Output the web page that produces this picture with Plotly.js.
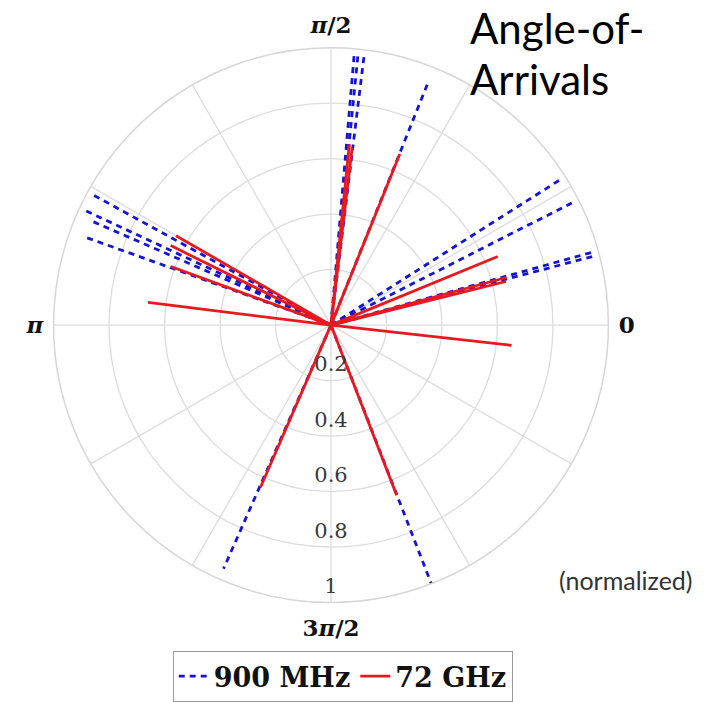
<!DOCTYPE html>
<html>
<head>
<meta charset="utf-8">
<script src="https://cdn.plot.ly/plotly-3.0.1.min.js"></script>
<style>
  html, body { margin: 0; padding: 0; background: #ffffff; }
  #chart { width: 717px; height: 702px; }
</style>
</head>
<body>
<div id="chart"></div>
<script>
// Arrival directions (degrees) and normalised path strength for each band
const mhzTheta = [85.1, 84.3, 83.0, 68.2, 32.4, 26.9, 15.6, 14.7, 151.3, 155.0, 156.5, 160.3, 246.2, 291.2];
const mhzR     = [0.98, 0.975, 0.985, 0.935, 0.985, 0.99, 0.99, 0.99, 0.99, 0.985, 0.95, 0.945, 0.96, 1.0];

const ghzTheta = [84.2, 83.2, 68.1, 22.4, 15.2, 14.0, 353.6, 150.0, 153.6, 159.9, 172.9, 246.5, 291.1];
const ghzR     = [0.655, 0.645, 0.665, 0.65, 0.655, 0.65, 0.655, 0.645, 0.645, 0.615, 0.665, 0.637, 0.657];

// Angular grid every 30 degrees, labelled only at the cardinal directions
const angleTicks  = [0, 30, 60, 90, 120, 150, 180, 210, 240, 270, 300, 330];
const angleLabels = ['<b>0</b>', '', '', '<b><i>π</i>/2</b>', '', '', '<b><i>π</i></b>', '', '', '<b>3<i>π</i>/2</b>', '', ''];

// Radial rings and their labels
const radialTicks  = [0.2, 0.4, 0.6, 0.8, 1];
const radialLabels = ['0.2', '0.4', '0.6', '0.8', '1'];

const seriesNames = ['900 MHz', '72 GHz'];

// Each arrival is a ray from the origin out to its strength
function rays(thetas, rs) {
  const r = [], t = [];
  thetas.forEach((th, i) => {
    r.push(0, rs[i], null);
    t.push(th, th, null);
  });
  return { r, t };
}

const blue = rays(mhzTheta, mhzR);
const red = rays(ghzTheta, ghzR);

const traces = [
  {
    type: 'scatterpolar', mode: 'lines', name: seriesNames[0],
    r: blue.r, theta: blue.t, connectgaps: false,
    line: { color: '#1414d2', width: 2.8, dash: '6px,5px' },
    hoverinfo: 'skip'
  },
  {
    type: 'scatterpolar', mode: 'lines', name: seriesNames[1],
    r: red.r, theta: red.t, connectgaps: false,
    line: { color: '#e8191e', width: 2.8 },
    hoverinfo: 'skip'
  },
  {
    // ring labels sit just inside each ring along the downward spoke
    type: 'scatterpolar', mode: 'text', showlegend: false,
    r: radialTicks.map(v => v - 0.052),
    theta: radialTicks.map(() => 270),
    text: radialLabels,
    textposition: 'middle center',
    textfont: { family: 'DejaVu Serif', size: 21, color: '#3a3a3a' },
    hoverinfo: 'skip'
  }
];

const layout = {
  width: 717, height: 702,
  margin: { l: 0, r: 0, t: 0, b: 0 },
  paper_bgcolor: '#ffffff',
  showlegend: true,
  polar: {
    domain: { x: [52 / 717, 610 / 717], y: [96 / 702, 654 / 702] },
    bgcolor: '#ffffff',
    radialaxis: {
      range: [0, 1],
      tickmode: 'array', tickvals: radialTicks,
      showticklabels: false, ticks: '',
      showline: false,
      gridcolor: '#dcdcdc', gridwidth: 1.3
    },
    angularaxis: {
      tickmode: 'array', tickvals: angleTicks, ticktext: angleLabels,
      ticks: 'outside', ticklen: 5, tickcolor: 'rgba(0,0,0,0)',
      rotation: 0, direction: 'counterclockwise',
      showline: true, linecolor: '#d6d6d6', linewidth: 1.5,
      gridcolor: '#dcdcdc', gridwidth: 1.3,
      tickfont: { family: 'DejaVu Serif', size: 23, color: '#111111' }
    }
  },
  legend: {
    orientation: 'h',
    x: 0.478, xanchor: 'center',
    y: 47 / 702, yanchor: 'top',
    bgcolor: '#ffffff', bordercolor: '#9a9a9a', borderwidth: 1,
    font: { family: 'DejaVu Serif', size: 27, color: '#111111', weight: 'bold' },
    itemwidth: 30, tracegroupgap: 0
  },
  annotations: [
    {
      text: 'Angle-of-', xref: 'paper', yref: 'paper',
      x: 468 / 717, y: 1 - 28 / 702, xanchor: 'left', yanchor: 'middle',
      showarrow: false, font: { family: 'Lato', size: 42, color: '#000000' }
    },
    {
      text: 'Arrivals', xref: 'paper', yref: 'paper',
      x: 468 / 717, y: 1 - 79 / 702, xanchor: 'left', yanchor: 'middle',
      showarrow: false, font: { family: 'Lato', size: 42, color: '#000000' }
    },
    {
      text: '(normalized)', xref: 'paper', yref: 'paper',
      x: 557 / 717, y: 1 - 583 / 702, xanchor: 'left', yanchor: 'middle',
      showarrow: false, font: { family: 'Lato', size: 25, color: '#333333' }
    }
  ]
};

Plotly.newPlot('chart', traces, layout, { displayModeBar: false, staticPlot: true });
</script>
</body>
</html>
